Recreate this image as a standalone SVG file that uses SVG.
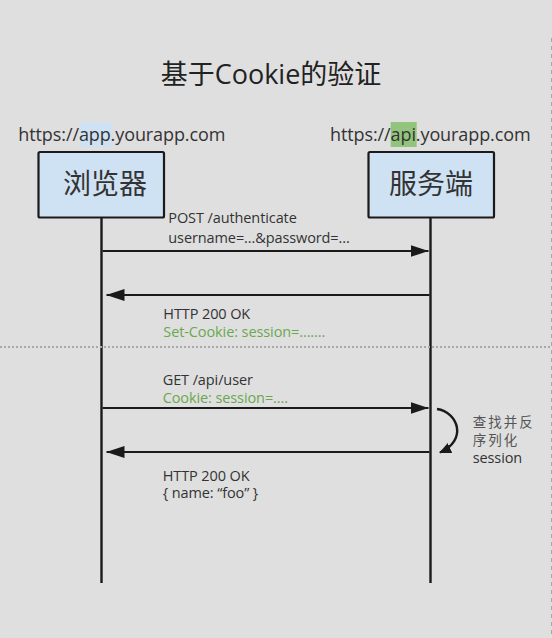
<svg xmlns="http://www.w3.org/2000/svg" width="552" height="638" viewBox="0 0 552 638">
  <style>
    .t { font-family: "Open Sans", "Noto Sans CJK SC", sans-serif; fill: #333; }
    .title { font-size: 27px; fill: #222; }
    .url { font-size: 18px; letter-spacing: -0.1px; fill: #333; }
    .box { fill: #cfe2f3; stroke: #1a1a1a; stroke-width: 2.2; }
    .boxlabel { font-size: 28px; fill: #333; text-anchor: middle; }
    .msg { font-size: 14.5px; letter-spacing: -0.1px; fill: #333; }
    .green { fill: #6aa84f; }
    .cjk { font-family: "Noto Sans CJK SC", sans-serif; font-size: 13.5px; letter-spacing: 2px; fill: #555; }
    .life { stroke: #1a1a1a; stroke-width: 2.4; fill: none; }
    .arrow { stroke: #1a1a1a; stroke-width: 2; fill: none; marker-end: url(#head); }
    .curve { stroke: #1a1a1a; stroke-width: 2.4; fill: none; marker-end: url(#head2); }
  </style>
  <defs>
    <marker id="head" markerUnits="userSpaceOnUse" markerWidth="18" markerHeight="12" refX="18" refY="6" orient="auto">
      <path d="M0,0 L18,6 L0,12 z" fill="#1a1a1a"/>
    </marker>
    <marker id="head2" markerUnits="userSpaceOnUse" markerWidth="12" markerHeight="11" refX="11" refY="5.5" orient="auto">
      <path d="M0,0 L12,5.5 L0,11 z" fill="#1a1a1a"/>
    </marker>
  </defs>
  <rect x="0" y="0" width="552" height="638" fill="#dfdfdf"/>
  <line x1="551.5" y1="38" x2="551.5" y2="638" stroke="#a8a8a8" stroke-width="1" stroke-dasharray="4 4"/>

  <text class="t title" x="271" y="84" text-anchor="middle">基于Cookie的验证</text>

  <g id="browser">
    <rect x="80" y="122" width="31.5" height="25" fill="#cfe2f3"/>
    <text class="t url" x="18.3" y="141">https://app.yourapp.com</text>
    <rect class="box" x="38.5" y="152" width="125.5" height="65.5" rx="1.5"/>
    <text class="t boxlabel" x="105" y="194">浏览器</text>
  </g>

  <g id="server">
    <rect x="390.7" y="122" width="26" height="25" fill="#93c47d"/>
    <text class="t url" x="330" y="141">https://api.yourapp.com</text>
    <rect class="box" x="368.5" y="152" width="125.5" height="65.5" rx="1.5"/>
    <text class="t boxlabel" x="431" y="194">服务端</text>
  </g>

  <g id="connectors">
    <line class="life" x1="101.5" y1="218" x2="101.5" y2="583"/>
    <line class="life" x1="430.5" y1="218" x2="430.5" y2="583"/>
    <line class="arrow" x1="102.5" y1="251" x2="428.5" y2="251"/>
    <line class="arrow" x1="429.5" y1="295" x2="106.5" y2="295"/>
    <line class="arrow" x1="102.5" y1="408" x2="428.5" y2="408"/>
    <line class="arrow" x1="429.5" y1="452" x2="106.5" y2="452"/>
    <path class="curve" d="M437 409 C458 412, 468 440, 440 452.5"/>
  </g>

  <line x1="0" y1="347" x2="552" y2="347" stroke="#a8a8a8" stroke-width="2" stroke-dasharray="2 2"/>

  <g id="labels">
    <text class="t msg" x="168.3" y="223.3">POST /authenticate</text>
    <text class="t msg" x="168.3" y="242.7">username=...&amp;password=...</text>
    <text class="t msg" x="163.3" y="319">HTTP 200 OK</text>
    <text class="t msg green" x="163.3" y="337">Set-Cookie: session=.......</text>
    <text class="t msg" x="162.7" y="385">GET /api/user</text>
    <text class="t msg green" x="162.7" y="403.3">Cookie: session=....</text>
    <text class="t msg" x="162.7" y="480.7">HTTP 200 OK</text>
    <text class="t msg" x="162.7" y="498">{  name: “foo” }</text>
    <text class="t cjk" x="472.7" y="426.5">查找并反</text>
    <text class="t cjk" x="472.7" y="445">序列化</text>
    <text class="t msg" x="472.7" y="463.3">session</text>
  </g>
</svg>
